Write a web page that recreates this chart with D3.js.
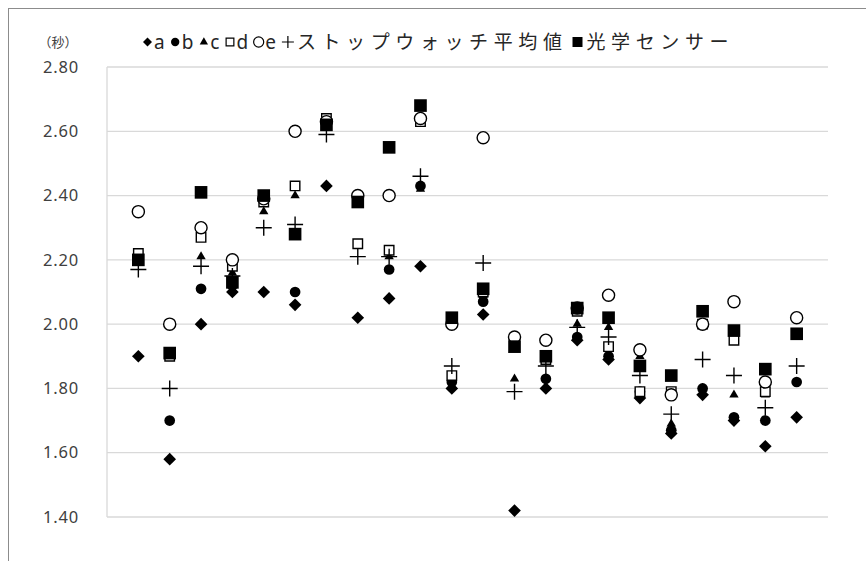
<!DOCTYPE html>
<html>
<head>
<meta charset="utf-8">
<script src="https://cdn.jsdelivr.net/npm/d3@7"></script>
<style>
  body { margin: 0; background: #fff; }
  svg { display: block; font-family: "Noto Sans CJK JP", "Noto Sans", sans-serif; }
</style>
</head>
<body>
<svg id="chart" width="866" height="561"></svg>
<script>
// 22 measurements, values in seconds
const nums = d3.range(1, 23);
const serA = [1.90,1.58,2.00,2.10,2.10,2.06,2.43,2.02,2.08,2.18,1.80,2.03,1.42,1.80,1.95,1.89,1.77,1.66,1.78,1.70,1.62,1.71];
const serB = [2.20,1.70,2.11,2.12,2.39,2.10,2.62,2.38,2.17,2.43,1.82,2.07,1.93,1.83,1.96,1.90,1.79,1.67,1.80,1.71,1.70,1.82];
const serC = [2.20,1.90,2.21,2.16,2.35,2.40,2.61,2.38,2.21,2.42,1.83,2.09,1.83,1.89,2.00,1.99,1.90,1.69,1.80,1.78,1.78,1.97];
const serD = [2.22,1.90,2.27,2.18,2.38,2.43,2.64,2.25,2.23,2.63,1.84,2.10,1.94,1.89,2.04,1.93,1.79,1.79,2.00,1.95,1.79,1.97];
const serE = [2.35,2.00,2.30,2.20,2.39,2.60,2.63,2.40,2.40,2.64,2.00,2.58,1.96,1.95,2.05,2.09,1.92,1.78,2.00,2.07,1.82,2.02];
const stopwatch = [2.17,1.80,2.18,2.15,2.30,2.31,2.59,2.21,2.21,2.46,1.87,2.19,1.79,1.87,1.99,1.96,1.84,1.72,1.89,1.84,1.74,1.87];
const sensor = [2.20,1.91,2.41,2.13,2.40,2.28,2.62,2.38,2.55,2.68,2.02,2.11,1.93,1.90,2.05,2.02,1.87,1.84,2.04,1.98,1.86,1.97];
const yTicks = [1.4,1.6,1.8,2.0,2.2,2.4,2.6,2.8];
const seriesNames = ["a", "b", "c", "d", "e", "ストップウォッチ平均値", "光学センサー"];

const svg = d3.select("#chart");

// outer frame
svg.append("rect")
  .attr("x", 8.5).attr("y", 8.5)
  .attr("width", 880).attr("height", 600)
  .attr("fill", "none").attr("stroke", "#8c8c8c").attr("stroke-width", 1);

const x = d3.scaleLinear().domain([0, 23]).range([107, 828]);
const y = d3.scaleLinear().domain([1.4, 2.8]).range([517, 67]);

// grid
svg.append("g")
  .selectAll("line")
  .data(yTicks)
  .enter().append("line")
  .attr("x1", 107).attr("x2", 828)
  .attr("y1", d => y(d)).attr("y2", d => y(d))
  .attr("stroke", "#d9d9d9").attr("stroke-width", 1.3);

svg.append("line")
  .attr("x1", 107).attr("x2", 107)
  .attr("y1", y(2.8)).attr("y2", y(1.4))
  .attr("stroke", "#d9d9d9").attr("stroke-width", 1.3);

// y axis labels
let yAxis = svg.append("g")
  .attr("transform", "translate(82,0)")
  .call(d3.axisLeft(y).tickValues(yTicks).tickFormat(d3.format(".2f")).tickSize(0));
yAxis.select(".domain").remove();
yAxis.selectAll("text")
  .attr("font-size", 16.5)
  .attr("letter-spacing", 0.8)
  .attr("fill", "#404040")
  .attr("font-family", "\"Noto Sans\", sans-serif");

svg.append("text")
  .attr("x", 58).attr("y", 47)
  .attr("text-anchor", "middle")
  .attr("font-size", 13)
  .attr("fill", "#404040")
  .text("（秒）");

// markers
const sym = (type, size) => d3.symbol().type(type).size(size)();
const series = [
  { vals: serA, d: sym(d3.symbolSquare, 80), ld: sym(d3.symbolSquare, 40), rot: 45, fill: "#000", stroke: "none" },
  { vals: serB, d: sym(d3.symbolCircle, 90), ld: sym(d3.symbolCircle, 55), rot: 0, fill: "#000", stroke: "none" },
  { vals: serC, d: sym(d3.symbolTriangle, 38), ld: sym(d3.symbolTriangle, 30), rot: 0, fill: "#000", stroke: "none" },
  { vals: serD, d: sym(d3.symbolSquare, 90), ld: sym(d3.symbolSquare, 60), rot: 0, fill: "#fff", stroke: "#000" },
  { vals: serE, d: sym(d3.symbolCircle, 115), ld: sym(d3.symbolCircle, 80), rot: 0, fill: "#fff", stroke: "#000" },
  { vals: stopwatch, d: "M-8,0H8M0,-8V8", ld: "M-6,0H6M0,-6V6", rot: 0, fill: "none", stroke: "#000" },
  { vals: sensor, d: sym(d3.symbolSquare, 160), ld: sym(d3.symbolSquare, 100), rot: 0, fill: "#000", stroke: "none" }
];

series.forEach(s => {
  svg.append("g")
    .selectAll("path")
    .data(s.vals)
    .enter().append("path")
    .attr("d", s.d)
    .attr("transform", (v, i) => "translate(" + x(nums[i]) + "," + y(v) + ") rotate(" + s.rot + ")")
    .attr("fill", s.fill)
    .attr("stroke", s.stroke)
    .attr("stroke-width", 1.4);
});

// legend: symbol + label, laid out left to right
const legend = svg.append("g").attr("transform", "translate(0,42)");
let cx = 143;
series.forEach((s, i) => {
  let isCjk = i >= 5;
  let symW = isCjk ? 12 : 9;
  legend.append("path")
    .attr("d", s.ld)
    .attr("transform", "translate(" + (cx + symW / 2) + ",0) rotate(" + s.rot + ")")
    .attr("fill", s.fill)
    .attr("stroke", s.stroke)
    .attr("stroke-width", 1.2);
  cx += symW + (isCjk ? 3 : 2);
  let t = legend.append("text")
    .attr("x", cx).attr("y", 6.5)
    .attr("font-size", 19)
    .attr("letter-spacing", isCjk ? 5.6 : 0)
    .attr("fill", "#262626")
    .attr("font-family", isCjk ? "\"Noto Sans CJK JP\", sans-serif" : "\"Noto Sans\", sans-serif")
    .text(seriesNames[i]);
  cx += t.node().getComputedTextLength() + (isCjk ? 4 : 6);
});
</script>
</body>
</html>
